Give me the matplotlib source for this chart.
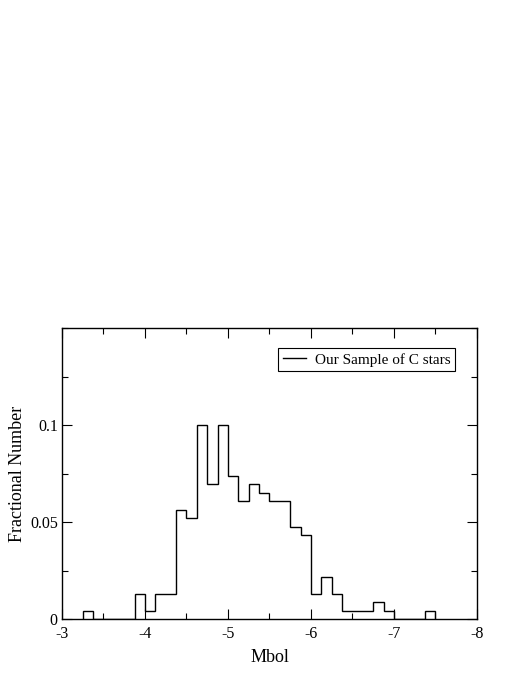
import numpy as np
import matplotlib
matplotlib.use("Agg")
import matplotlib.pyplot as plt
from matplotlib.ticker import MultipleLocator, FormatStrFormatter

# Bin edges (Mbol), width 0.125 mag
bin_start = -3.25
bin_width = -0.125
fractions = [0.0044, 0.0, 0.0, 0.0, 0.0, 0.0130, 0.0044, 0.0130, 0.0130,
             0.0565, 0.0522, 0.1000, 0.0696, 0.1000, 0.0739, 0.0609, 0.0696,
             0.0652, 0.0609, 0.0609, 0.0478, 0.0435, 0.0130, 0.0217, 0.0130,
             0.0044, 0.0044, 0.0044, 0.0087, 0.0044, 0.0, 0.0, 0.0, 0.0044]
legend_label = "Our Sample of C stars"
xlabel = "Mbol"
ylabel = "Fractional Number"

edges = bin_start + bin_width * np.arange(len(fractions) + 1)

plt.rcParams['font.family'] = ['Liberation Serif', 'DejaVu Serif']
plt.rcParams['axes.unicode_minus'] = False

fig = plt.figure(figsize=(5.27, 6.82), dpi=100)
ax = fig.add_axes([0.1176, 0.0919, 0.7874, 0.4271])

ax.stairs(fractions, edges, color='black', linewidth=1.0, label=legend_label)

ax.set_xlim(-3, -8)
ax.set_ylim(0, 0.15)

ax.xaxis.set_major_locator(MultipleLocator(1))
ax.xaxis.set_minor_locator(MultipleLocator(0.5))
ax.yaxis.set_major_locator(MultipleLocator(0.05))
ax.yaxis.set_minor_locator(MultipleLocator(0.025))
ax.set_yticks([0, 0.05, 0.1])
ax.set_yticklabels(['0', '0.05', '0.1'])
ax.xaxis.set_major_formatter(FormatStrFormatter('%d'))

ax.tick_params(which='both', direction='in', top=True, right=True,
               labelsize=11.5, width=0.8, colors='black')
ax.tick_params(which='major', length=7)
ax.tick_params(which='minor', length=4)
ax.tick_params(axis='x', pad=5)
ax.tick_params(axis='y', pad=3)
for s in ax.spines.values():
    s.set_linewidth(1.0)

ax.set_xlabel(xlabel, fontsize=13, labelpad=5)
ax.set_ylabel(ylabel, fontsize=13, labelpad=3)

leg = ax.legend(loc='upper right', bbox_to_anchor=(0.947, 0.93), fontsize=11,
                frameon=True, fancybox=False, framealpha=1, edgecolor='black',
                handlelength=1.5, handletextpad=0.6, borderpad=0.3,
                borderaxespad=0)
leg.get_frame().set_linewidth(0.8)

fig.savefig("out.png", dpi=100)
